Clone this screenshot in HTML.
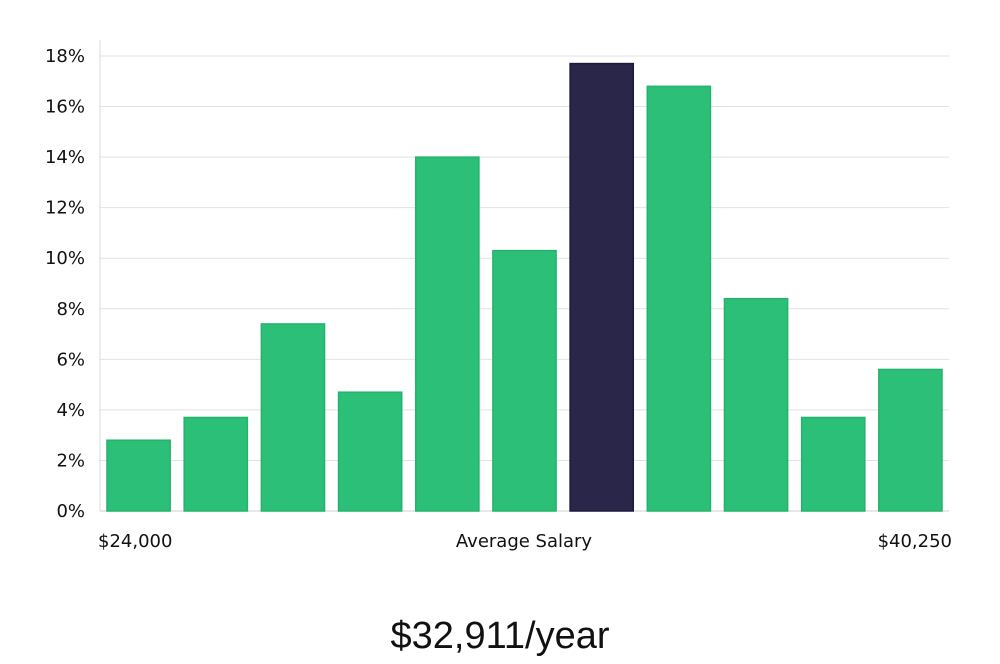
<!DOCTYPE html>
<html><head><meta charset="utf-8"><style>
html,body{margin:0;padding:0;background:#fff;}
body{width:1000px;height:660px;overflow:hidden;font-family:"DejaVu Sans","Liberation Sans",sans-serif;}
</style></head><body>
<svg id="chart" width="1000" height="660" xmlns="http://www.w3.org/2000/svg"></svg>
<script>
const categories = ["b1","b2","b3","b4","b5","b6","b7","b8","b9","b10","b11"];
const values = [2.8,3.7,7.4,4.7,14.0,10.3,17.7,16.8,8.4,3.7,5.6];
const highlightIndex = 6;
const yTicks = [0,2,4,6,8,10,12,14,16,18];
const xLabels = ["$24,000","Average Salary","$40,250"];
const title = "$32,911/year";

const svg = document.getElementById('chart');
const NS = 'http://www.w3.org/2000/svg';
const x0 = 100, x1 = 949, yBase = 511, yTop = 56, yMax = 18;
function yScale(v){ return yBase - (v / yMax) * (yBase - yTop); }
const band = (x1 - x0) / categories.length;
function xScale(i){ return x0 + i * band; }
function mk(tag, attrs){ const e = document.createElementNS(NS, tag); for (const k in attrs) e.setAttribute(k, attrs[k]); svg.appendChild(e); return e; }

yTicks.forEach(t => {
  const y = yScale(t);
  const g = mk('line', {x1: x0, x2: x1, y1: y, y2: y, stroke: t === 0 ? '#cfcfcf' : '#e2e2e2', 'stroke-width': 1});
  
  
  const l = mk('text', {x: 85, y: y + 6, 'text-anchor': 'end', 'font-size': 18, fill: '#111'});
  l.textContent = t + '%';
  
  
});
const ax = mk('line', {x1: x0, x2: x0, y1: 40, y2: yBase, stroke: '#d8d8d8', 'stroke-width': 1});



values.forEach((v, i) => {
  const hi = i === highlightIndex;
  const y = yScale(v);
  const r = mk('rect', {x: xScale(i) + 7, y: y, width: band - 14, height: yBase - y,
    fill: hi ? '#29264a' : '#2bbf78', stroke: hi ? '#1c1a3a' : '#25b26e', 'stroke-width': 1.5});
  
  
});

const lx = [[98,'start'],[524,'middle'],[952,'end']];
xLabels.forEach((s, i) => {
  const t = mk('text', {x: lx[i][0], y: 547, 'text-anchor': lx[i][1], 'font-size': 18, fill: '#111'});
  t.textContent = s;
  
  
});
const tt = mk('text', {x: 500, y: 648, 'text-anchor': 'middle', 'font-size': 38, fill: '#111', 'font-weight': 300, 'font-family': '"Liberation Sans", sans-serif'});
tt.textContent = title;


</script>
</body></html>
